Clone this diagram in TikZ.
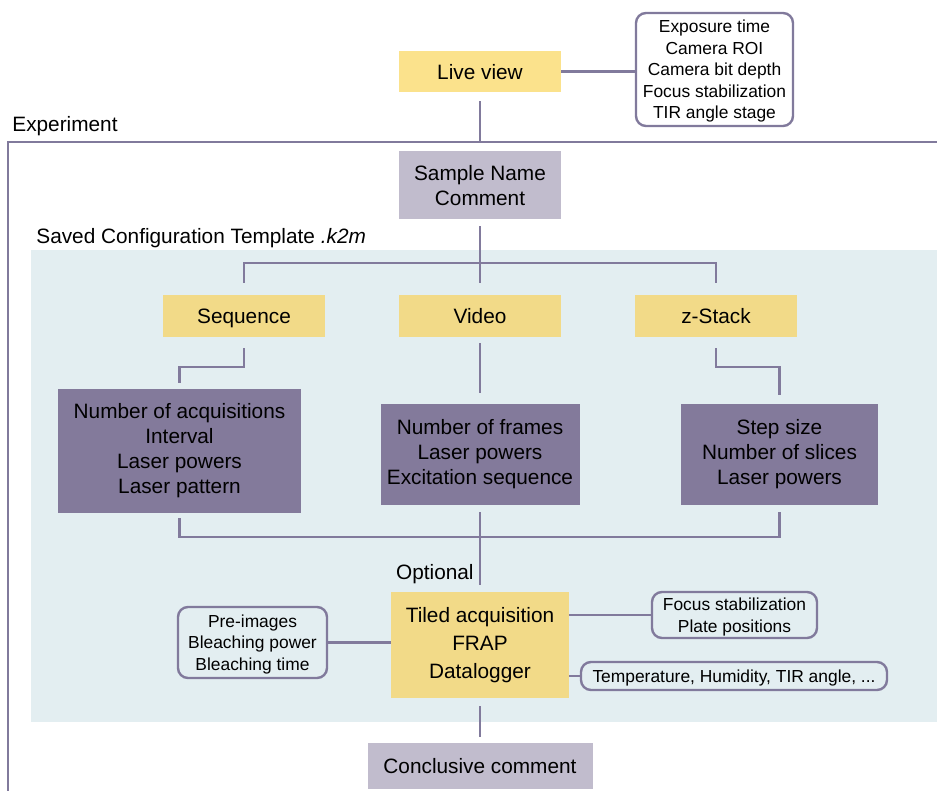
\documentclass[tikz,border=0pt]{standalone}
\usepackage{fontspec}
\setmainfont{Liberation Sans}

\definecolor{liveyellow}{HTML}{FBE28C}
\definecolor{boxyellow}{HTML}{F2DA88}
\definecolor{lightpurple}{HTML}{C1BCCD}
\definecolor{darkpurple}{HTML}{837A9B}
\definecolor{linepurple}{HTML}{817A9C}
\definecolor{panelblue}{HTML}{E3EEF1}

\begin{document}
\begin{tikzpicture}[
x=0.5pt, y=-0.5pt,
% node style
mbox/.style={rectangle, inner sep=0pt, align=center, text depth=0pt, font=\fontsize{10.4}{12.5}\selectfont},
ybox/.style={mbox, fill=boxyellow},
gbox/.style={mbox, fill=lightpurple},
pbox/.style={mbox, fill=darkpurple, text depth=},
bub/.style={rectangle, rounded corners=5pt, draw=linepurple, line width=1.2pt, inner sep=0pt, align=center, text depth=0pt, font=\fontsize{8.7}{10.75}\selectfont},
lbl/.style={inner sep=0pt, font=\fontsize{10.4}{12.5}\selectfont},
conn/.style={draw=linepurple, line width=1.2pt}
]
\useasboundingbox (0,0) rectangle (937,791);

% background panel and experiment frame
\fill[panelblue] (31,250) rectangle (937,722);
\draw[linepurple, line width=1pt] (8,791) -- (8,142) -- (937,142);

% nodes
\node[ybox, fill=liveyellow, minimum width=81pt, minimum height=20.5pt] (live) at (480,71.5) {Live view};
\node[bub, minimum width=78.5pt, minimum height=56.5pt] (live_par) at (714.5,69.5) {Exposure time\\Camera ROI\\Camera bit depth\\Focus stabilization\\TIR angle stage};
\node[lbl, anchor=west] (exp_lbl) at (12,126) {Experiment};
\node[gbox, minimum width=81pt, minimum height=34pt] (sample) at (480,185) {Sample Name\\Comment};
\node[lbl, anchor=west] (tmpl_lbl) at (36,238) {Saved Configuration Template \textit{.k2m}};

\node[ybox, minimum width=81pt, minimum height=21pt] (seq) at (244,316) {Sequence};
\node[ybox, minimum width=81pt, minimum height=21pt] (video) at (480,316) {Video};
\node[ybox, minimum width=81pt, minimum height=21pt] (zstack) at (716,316) {z-Stack};

\node[pbox, minimum width=121.5pt, minimum height=62pt] (seq_par) at (179.5,451) {Number of acquisitions\\Interval\\Laser powers\\Laser pattern};
\node[pbox, minimum width=99.5pt, minimum height=50.5pt] (vid_par) at (480,454.5) {Number of frames\\Laser powers\\Excitation sequence};
\node[pbox, minimum width=98.5pt, minimum height=50.5pt] (z_par) at (779.5,454.5) {Step size\\Number of slices\\Laser powers};

\node[lbl, anchor=east] (opt_lbl) at (474,574) {Optional};
\node[ybox, text depth=, minimum width=89pt, minimum height=53pt, font=\fontsize{10.4}{14}\selectfont] (tiled) at (480,645) {Tiled acquisition\\FRAP\\Datalogger};
\node[bub, minimum width=74.5pt, minimum height=35.5pt] (pre_par) at (252.5,642.5) {Pre-images\\Bleaching power\\Bleaching time};
\node[bub, minimum width=82.5pt, minimum height=23pt] (foc_par) at (734.5,615) {Focus stabilization\\Plate positions};
\node[bub, minimum width=153pt, minimum height=14pt] (log_par) at (734,676) {Temperature, Humidity, TIR angle, ...};
\node[gbox, minimum width=112.5pt, minimum height=23pt] (concl) at (480,766) {Conclusive comment};

% bends of the connectors
\coordinate (exp_top) at (480,142);
\coordinate (top_bus) at (480,263);
\coordinate (seq_bend) at (244,367);
\coordinate (z_bend) at (716,367);
\coordinate (low_bus) at (480,537);

% draw lines between nodes
\draw[-][conn] (live.east) -- (live.east -| live_par.west);
\draw[-][conn, shorten <=4.5pt] (live.south) -- (exp_top);
\draw[-][conn, shorten <=3.5pt] (sample.south) -- (top_bus);
\draw[-][conn, shorten <=6pt, shorten >=6pt] (seq.north) |- (top_bus) -| (zstack.north);
\draw[-][conn, shorten >=6pt] (top_bus) -- (video.north);
\draw[-][conn, shorten <=5.5pt, shorten >=3pt] (seq.south) -- (seq_bend) -| (seq_par.north);
\draw[-][conn, shorten <=3pt, shorten >=5.5pt] (video.south) -- (vid_par.north);
\draw[-][conn, shorten <=5.5pt, shorten >=4.5pt] (zstack.south) -- (z_bend) -| (z_par.north);
\draw[-][conn, shorten <=2.5pt, shorten >=3.5pt] (seq_par.south) |- (low_bus) -| (z_par.south);
\draw[-][conn, shorten <=3.5pt, shorten >=3.5pt] (vid_par.south) -- (tiled.north);
\draw[-][conn] (pre_par.east) -- (pre_par.east -| tiled.west);
\draw[-][conn] (tiled.east |- foc_par.west) -- (foc_par.west);
\draw[-][conn] (tiled.east |- log_par.west) -- (log_par.west);
\draw[-][conn, shorten <=4pt, shorten >=3pt] (tiled.south) -- (concl.north);

\end{tikzpicture}
\end{document}
